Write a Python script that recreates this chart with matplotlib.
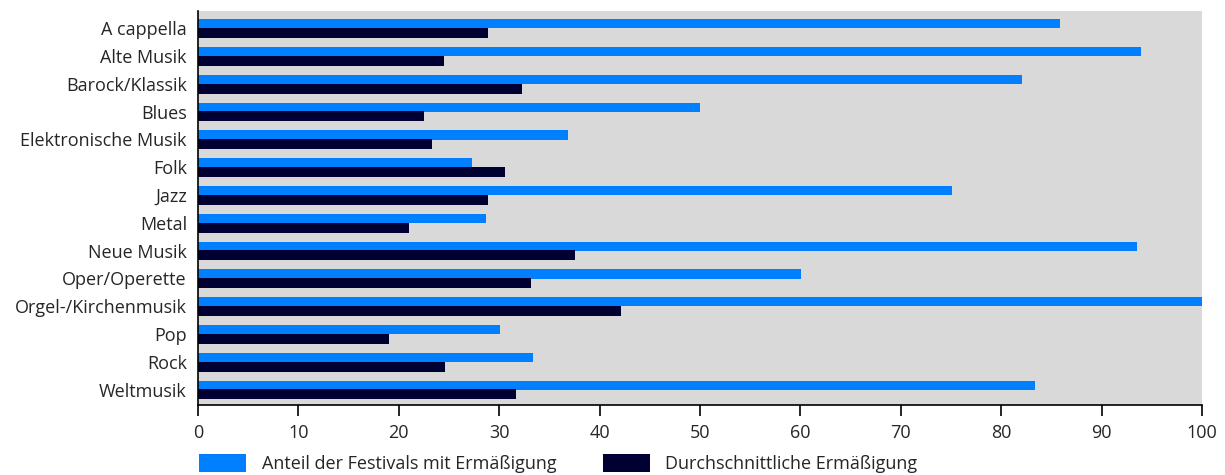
import matplotlib
matplotlib.use("Agg")
import matplotlib.pyplot as plt
from matplotlib.patches import Patch
import numpy as np

categories = ["A cappella", "Alte Musik", "Barock/Klassik", "Blues", "Elektronische Musik",
              "Folk", "Jazz", "Metal", "Neue Musik", "Oper/Operette",
              "Orgel-/Kirchenmusik", "Pop", "Rock", "Weltmusik"]
anteil = [85.9, 93.9, 82.1, 50.0, 36.9, 27.3, 75.1, 28.7, 93.5, 60.1, 100.0, 30.1, 33.4, 83.4]
durchschnitt = [28.9, 24.5, 32.3, 22.5, 23.3, 30.6, 28.9, 21.0, 37.5, 33.2, 42.1, 19.0, 24.6, 31.7]
series_names = ["Anteil der Festivals mit Ermäßigung", "Durchschnittliche Ermäßigung"]
xticks = [0, 10, 20, 30, 40, 50, 60, 70, 80, 90, 100]

plt.rcParams['font.family'] = ['Open Sans', 'DejaVu Sans']
light = "#0080ff"
dark = "#000033"
txt = "#262626"

fig = plt.figure(figsize=(12.25, 4.75), dpi=100)
ax = fig.add_axes([198/1225, 1 - 405/475, 1004/1225, 394/475])
ax.set_facecolor("#d9d9d9")

y = np.arange(len(categories))
ax.barh(y - 0.16, anteil, height=0.33, color=light, label=series_names[0])
ax.barh(y + 0.17, durchschnitt, height=0.36, color=dark, label=series_names[1])

ax.set_yticks(y)
ax.set_yticklabels(categories, fontsize=13, color=txt)
ax.set_ylim(len(categories) - 0.45, -0.62)
ax.set_xlim(0, 100)
ax.set_xticks(xticks)
ax.set_xticklabels([str(t) for t in xticks], fontsize=13, color=txt)
ax.tick_params(axis='y', length=0, pad=8)
ax.tick_params(axis='x', length=8, width=1.2, color='black', pad=6, direction='out')
for s in ['top', 'right']:
    ax.spines[s].set_visible(False)
ax.spines['left'].set_color('black')
ax.spines['bottom'].set_color('black')
ax.spines['left'].set_linewidth(1.2)
ax.spines['bottom'].set_linewidth(1.2)

handles = [Patch(facecolor=light, label=series_names[0]), Patch(facecolor=dark, label=series_names[1])]
leg = fig.legend(handles=handles, loc='lower left', bbox_to_anchor=(183/1225, -0.03), ncol=2,
                 frameon=False, fontsize=13, handlelength=2.6, handleheight=1.1,
                 columnspacing=2.6, handletextpad=0.85, labelcolor=txt)

fig.savefig("out.png", dpi=100)
